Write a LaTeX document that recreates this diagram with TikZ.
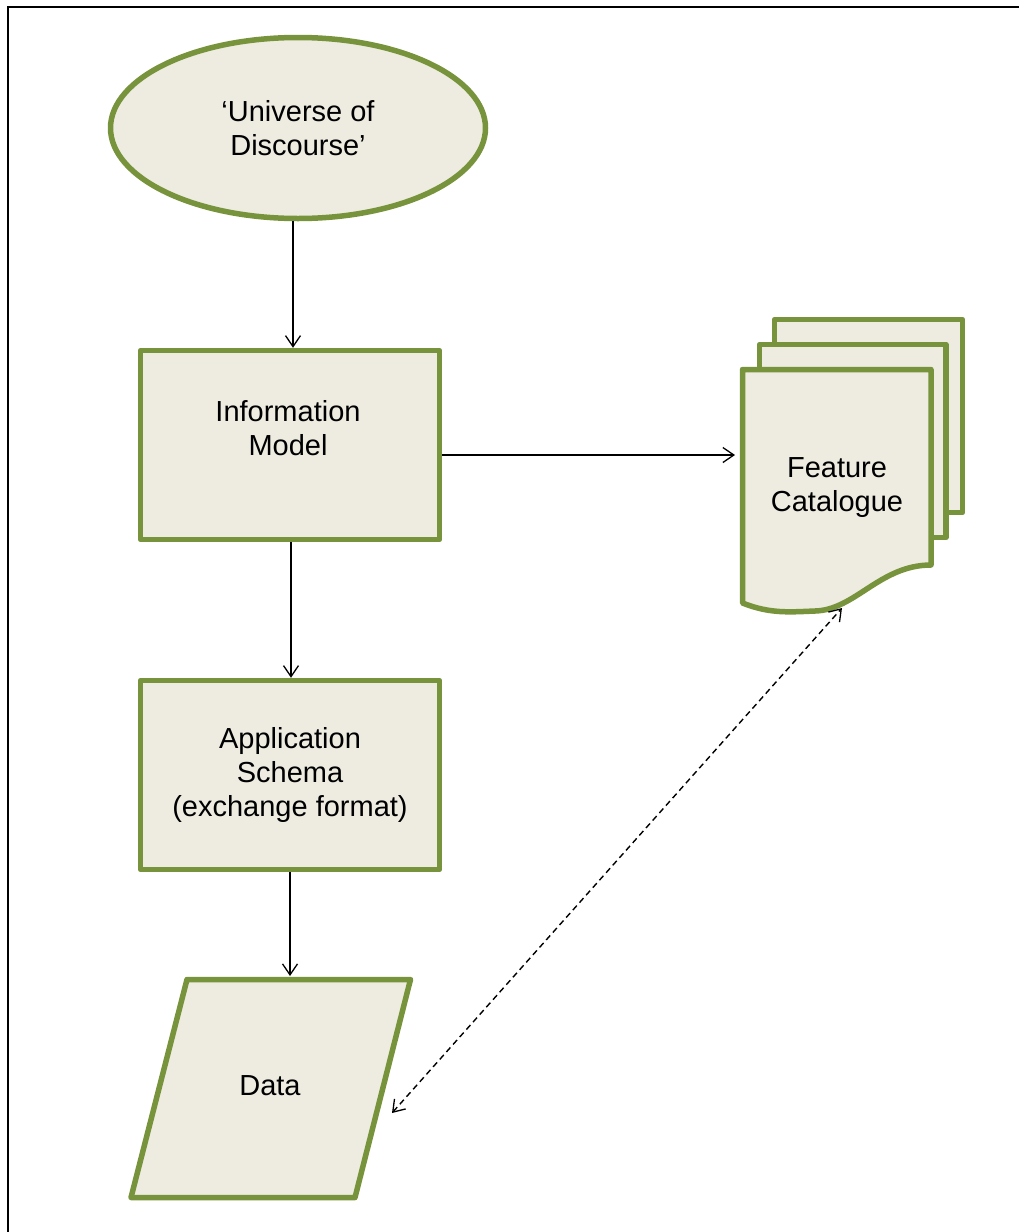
\documentclass[tikz,border=0pt]{standalone}
\usepackage{fontspec}
\setmainfont{Liberation Sans}
\usetikzlibrary{arrows.meta,shapes.geometric}
\definecolor{ogreen}{HTML}{77933C}
\definecolor{ofill}{HTML}{EEECE1}
\tikzset{
  shp/.style={draw=ogreen, line width=5.5pt, fill=ofill, line join=round},
  txt/.style={align=center, text=black, inner sep=0pt, font=\fontsize{29}{34}\selectfont},
  arr/.style={black, line width=1.3pt, -{Straight Barb[length=11pt,width=15pt,line width=1.3pt]}},
  darr/.style={black, line width=1.4pt, dash pattern=on 6pt off 4pt,
     {Straight Barb[length=11pt,width=15pt,line width=1.3pt]}-{Straight Barb[length=11pt,width=15pt,line width=1.3pt]}}
}
\begin{document}
\begin{tikzpicture}[x=1pt,y=-1pt]
\useasboundingbox (0,0) rectangle (1019,1232);
% frame
\draw[black, line width=2pt] (8,1232) -- (8,7) -- (1019,7);
% shapes
\node[shp, ellipse, minimum width=375pt, minimum height=181pt] (e) at (298,128) {};
\node[txt] (et) at (298,128) {‘Universe of\\Discourse’};
\node[shp, rectangle, minimum width=299pt, minimum height=189pt] (im) at (290,445) {};
\node[txt] (imt) at (288,428) {Information\\Model};
\node[shp, rectangle, minimum width=299pt, minimum height=189pt] (as) at (290,775) {};
\node[txt] (ast) at (290,775) {Application\\Schema\\(exchange format)};
% data parallelogram
\draw[shp] (187,979.5) -- (410.5,979.5) -- (355,1197.5) -- (131,1197.5) -- cycle;
\node[txt] (dt) at (270,1086) {Data};
\coordinate (dtop) at (290,976);
\coordinate (dright) at (392,1113);
% feature catalogue pages
\draw[shp] (774.5,319.5) rectangle (962.5,512.5);
\draw[shp] (759.5,344.5) rectangle (946,537.5);
\draw[shp] (742.5,369.5) -- (931,369.5) -- (931,565)
   .. controls (880,565) and (855,610) .. (815,611)
   .. controls (790,612) and (770,614) .. (742.5,603) -- cycle;
\node[txt] (fct) at (837,488) {Feature\\Catalogue};
\coordinate (fcin) at (735,455);
\coordinate (fcbot) at (842,608);
% connectors
\draw[arr] (e.south -| 293,0) -- (im.north -| 293,0);
\draw[arr] (im.south -| 291,0) -- (as.north -| 291,0);
\draw[arr] (as.south) -- (dtop);
\draw[arr] ([yshift=-10pt]im.east) -- (fcin);
\draw[darr] (dright) -- (fcbot);
\end{tikzpicture}
\end{document}
